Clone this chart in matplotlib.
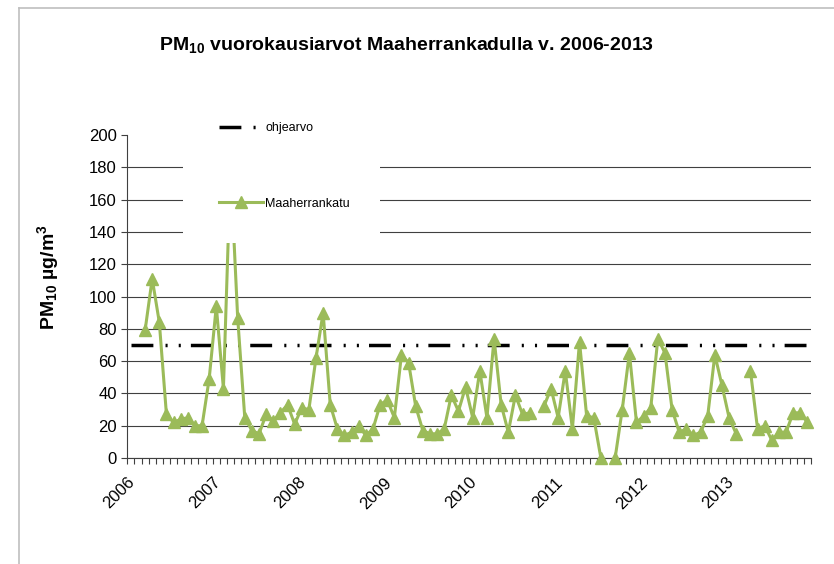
import numpy as np
import matplotlib
matplotlib.use("Agg")
import matplotlib.pyplot as plt
from matplotlib.lines import Line2D
from matplotlib.patches import Rectangle

plt.rcParams['font.family'] = ['Liberation Sans', 'DejaVu Sans']
plt.rcParams['mathtext.default'] = 'regular'

# kuukausittaiset arvot tammikuu 2006 - joulukuu 2013 (nan = puuttuu)
years = ['2006', '2007', '2008', '2009', '2010', '2011', '2012', '2013']
pm10 = [np.nan, np.nan, 79, 111, 84, 27, 22, 24, 25, 20, 20, 49,
        94, 43, 180, 87, 25, 17, 15, 27, 23, 28, 33, 21,
        31, 30, 62, 90, 33, 18, 14, 16, 20, 14, 18, 33,
        36, 25, 64, 59, 32, 17, 15, 15, 18, 39, 29, 44,
        25, 54, 25, 74, 33, 16, 39, 27, 28, np.nan, 32, 43,
        25, 54, 18, 72, 26, 25, 0, np.nan, 0, 30, 65, 22,
        26, 31, 74, 65, 30, 16, 18, 14, 16, 26, 64, 45,
        25, 15, np.nan, 54, 18, 20, 11, 16, 16, 28, 28, 22]
ohjearvo = 70

green = '#9BBB59'
narrow = ['Liberation Sans Narrow', 'Liberation Sans', 'DejaVu Sans']

fig = plt.figure(figsize=(8.34, 5.64), dpi=100)
ax = fig.add_axes([0.1526, 0.1879, 0.8198, 0.5727])

x = np.arange(len(pm10)) + 0.5
ax.plot(x, np.full(len(pm10), ohjearvo), color='black', lw=2.5,
        dash_capstyle='butt', solid_capstyle='butt',
        linestyle=(0, (6.3, 3.5, 0.6, 3.2, 0.6, 2.9)), label='ohjearvo', zorder=3)
ax.plot(x, pm10, color=green, lw=2.2, marker='^', markersize=8,
        markeredgewidth=1, label='Maaherrankatu', clip_on=False, zorder=3)

ax.set_xlim(0, len(pm10))
ax.set_ylim(0, 200)
ax.set_yticks(np.arange(0, 201, 20))
ax.set_xticks(np.arange(0, len(pm10), 12))
ax.set_xticklabels(years, rotation=45, ha='right', va='top', rotation_mode='anchor')
ax.set_xticks(np.arange(0, len(pm10) + 1), minor=True)
ax.tick_params(axis='both', labelsize=12, direction='out', length=4, width=0.8, color='#404040')
ax.tick_params(axis='x', which='minor', length=4, width=0.8, color='#404040')
ax.tick_params(axis='x', pad=8)

ax.yaxis.grid(True, color='#404040', lw=0.8)
ax.get_ygridlines()[-1].set_visible(False)
ax.set_axisbelow(True)
for s in ['top', 'right']:
    ax.spines[s].set_visible(False)
for s in ['left', 'bottom']:
    ax.spines[s].set_color('#404040')
    ax.spines[s].set_linewidth(0.8)

ax.set_ylabel('PM$_{10}$ µg/m$^3$', fontsize=14, fontweight='bold')
ax.yaxis.set_label_coords(-0.097, 0.56)

# valkoinen selitelaatikko peittää huipun
ax.add_patch(Rectangle((0.0815, 0.665), 0.288, 0.5, transform=ax.transAxes,
                       facecolor='white', edgecolor='none', clip_on=False, zorder=4))

leg = ax.legend(loc='upper left', bbox_to_anchor=(219 / 834, 1 - 122 / 564),
                bbox_transform=fig.transFigure, frameon=False,
                handlelength=3.5, handletextpad=0.2, labelspacing=5.1,
                borderpad=0, borderaxespad=0, prop={'family': narrow, 'size': 9})
leg.set_zorder(5)

fig.text(0.487, 0.92, 'PM$_{10}$ vuorokausiarvot Maaherrankadulla v. 2006-2013',
         ha='center', va='center', fontsize=14, fontweight='bold', family=narrow)

# kehys
fig.add_artist(Line2D([19 / 834, 1], [1 - 8 / 564, 1 - 8 / 564], color='#bfbfbf', lw=1.2))
fig.add_artist(Line2D([19 / 834, 19 / 834], [0, 1 - 8 / 564], color='#bfbfbf', lw=1.2))

fig.savefig('out.png', dpi=100)
